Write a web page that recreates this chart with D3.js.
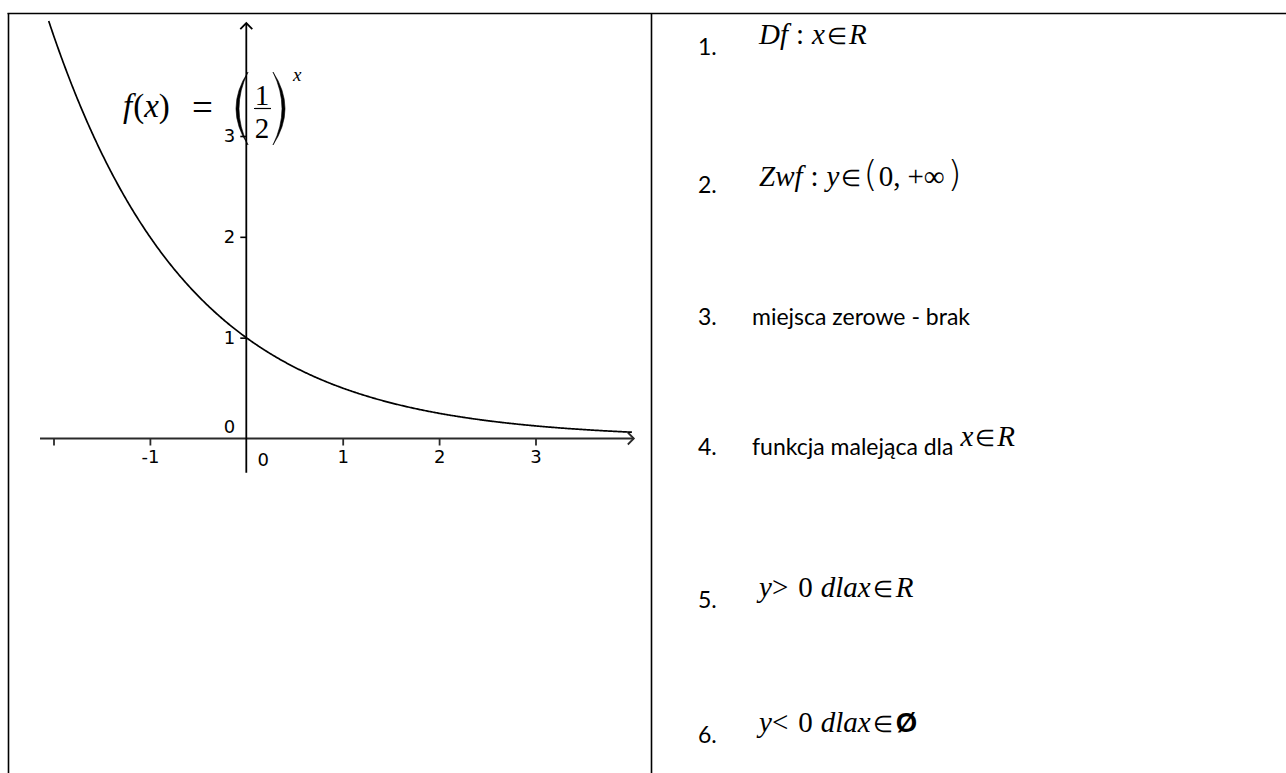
<!DOCTYPE html>
<html>
<head>
<meta charset="utf-8">
<script src="https://cdn.jsdelivr.net/npm/d3@7"></script>
<style>
  html, body { margin: 0; padding: 0; background: #fff; }
  svg { display: block; }
</style>
</head>
<body>
<svg id="chart" width="1286" height="773"></svg>
<script>
// f(x) = (1/2)^x
const base = 1 / 2;

// axis ticks and their labels
const xTicks = [-2, -1, 1, 2, 3];
const xTickLabels = ["", "-1", "1", "2", "3"];
const yTicks = [1, 2, 3];
const yTickLabels = ["1", "2", "3"];

// visible extents of the axes and the plotted curve
const xAxisExtent = [-2.14, 4.02];
const yAxisExtent = [-0.34, 4.12];
const curveExtent = [-2.05, 4.0];

// list of properties in the right-hand cell
const propNumbers = ["1.", "2.", "3.", "4.", "5.", "6."];
const propTexts = ["", "", "miejsca zerowe - brak", "funkcja malejąca dla", "", ""];
// math parts: [text, style, gap before]  (i = italic, u = upright, e = element-of sign, b = tall bracket, s = sans symbol)
const propMath = [
  [["Df", "i", 0], [":", "u", 8], ["x", "i", 8], ["∈", "e", 2], ["R", "i", 2]],
  [["Zwf", "i", 0], [":", "u", 8], ["y", "i", 8], ["∈", "e", 2], ["(", "b", 2], ["0,", "u", 1], ["+∞", "u", 7], [")", "b", 3]],
  [],
  [["x", "i", 0], ["∈", "e", 2], ["R", "i", 2]],
  [["y", "i", 0], [">", "u", 0], ["0", "u", 10], ["dlax", "i", 8], ["∈", "e", 2], ["R", "i", 3]],
  [["y", "i", 0], ["<", "u", 0], ["0", "u", 10], ["dlax", "i", 8], ["∈", "e", 2], ["Ø", "s", 3]]
];

const svg = d3.select("#chart");
svg.append("rect").attr("width", 1286).attr("height", 773).attr("fill", "#fff");

// ---- table frame ----
const frame = svg.append("g").attr("stroke", "#000").attr("stroke-width", 1.6);
frame.append("line").attr("x1", 7.5).attr("x2", 1286).attr("y1", 13.5).attr("y2", 13.5);
frame.append("line").attr("x1", 8.5).attr("x2", 8.5).attr("y1", 13).attr("y2", 773);
frame.append("line").attr("x1", 651.5).attr("x2", 651.5).attr("y1", 13).attr("y2", 773);

// ---- graph ----
const x = d3.scaleLinear().domain([-2, 3]).range([53.5, 535.5]);
const y = d3.scaleLinear().domain([0, 3]).range([438.5, 136]);

const g = svg.append("g");
const tickFont = "'DejaVu Sans', sans-serif";

// x axis with arrow
g.append("line")
  .attr("x1", x(xAxisExtent[0])).attr("x2", x(xAxisExtent[1]))
  .attr("y1", y(0)).attr("y2", y(0))
  .attr("stroke", "#2a2a2a").attr("stroke-width", 2);
g.append("path")
  .attr("d", `M${x(xAxisExtent[1]) - 6},${y(0) - 6} L${x(xAxisExtent[1])},${y(0)} L${x(xAxisExtent[1]) - 6},${y(0) + 6}`)
  .attr("fill", "none").attr("stroke", "#2a2a2a").attr("stroke-width", 1.8);

// y axis with arrow
g.append("line")
  .attr("x1", x(0)).attr("x2", x(0))
  .attr("y1", y(yAxisExtent[0])).attr("y2", y(yAxisExtent[1]))
  .attr("stroke", "#000").attr("stroke-width", 1.8);
g.append("path")
  .attr("d", `M${x(0) - 6},${y(yAxisExtent[1]) + 6} L${x(0)},${y(yAxisExtent[1])} L${x(0) + 6},${y(yAxisExtent[1]) + 6}`)
  .attr("fill", "none").attr("stroke", "#000").attr("stroke-width", 1.8);

const xAxis = d3.axisBottom(x)
  .tickValues(xTicks)
  .tickSize(7)
  .tickPadding(5)
  .tickFormat((d, i) => xTickLabels[i]);
const xg = g.append("g").attr("transform", `translate(0,${y(0)})`).call(xAxis);
xg.select(".domain").remove();
xg.selectAll(".tick line").attr("stroke", "#2a2a2a").attr("stroke-width", 1.8);
xg.selectAll(".tick text").attr("font-family", tickFont).attr("font-size", 18).attr("fill", "#000");

const yAxis = d3.axisLeft(y)
  .tickValues(yTicks)
  .tickSize(6)
  .tickPadding(5)
  .tickFormat((d, i) => yTickLabels[i]);
const yg = g.append("g").attr("transform", `translate(${x(0)},0)`).call(yAxis);
yg.select(".domain").remove();
yg.selectAll(".tick line").attr("stroke", "#000").attr("stroke-width", 1.6);
yg.selectAll(".tick text").attr("font-family", tickFont).attr("font-size", 18).attr("fill", "#000");

// zero labels at the origin
g.append("text").attr("x", x(0) + 17).attr("y", y(0) + 27)
  .attr("text-anchor", "middle").attr("font-family", tickFont).attr("font-size", 18).text("0");
g.append("text").attr("x", x(0) - 11).attr("y", y(0) - 6)
  .attr("text-anchor", "end").attr("font-family", tickFont).attr("font-size", 18).text("0");

// the curve
const xs = d3.range(curveExtent[0], curveExtent[1] + 1e-9, 0.01);
const line = d3.line().x(d => x(d)).y(d => y(Math.pow(base, d)));
g.append("path").datum(xs).attr("d", line)
  .attr("fill", "none").attr("stroke", "#000").attr("stroke-width", 1.7);

// ---- formula label f(x) = (1/2)^x ----
const serif = "'Liberation Serif', 'Times New Roman', serif";
const lab = svg.append("g").attr("font-family", serif).attr("fill", "#000");
const fx = lab.append("text").attr("x", 123).attr("y", 117).attr("font-size", 33);
fx.append("tspan").attr("font-style", "italic").text("f");
fx.append("tspan").attr("dx", 1).text("(");
fx.append("tspan").attr("font-style", "italic").text("x");
fx.append("tspan").text(")");
lab.append("text").attr("x", 192).attr("y", 120).attr("font-size", 37).text("=");
lab.append("text").attr("x", 262).attr("y", 105).attr("text-anchor", "middle").attr("font-size", 29).text("1");
lab.append("line").attr("x1", 254).attr("x2", 271).attr("y1", 108.5).attr("y2", 108.5)
  .attr("stroke", "#000").attr("stroke-width", 1.2);
lab.append("text").attr("x", 262).attr("y", 138).attr("text-anchor", "middle").attr("font-size", 29).text("2");
// large parentheses
lab.append("path")
  .attr("d", "M248,72 Q224,108.5 248,145 Q230,108.5 248,72 Z")
  .attr("fill", "#000").attr("stroke", "#000").attr("stroke-width", 0.6);
lab.append("path")
  .attr("d", "M273,72 Q297,108.5 273,145 Q291,108.5 273,72 Z")
  .attr("fill", "#000").attr("stroke", "#000").attr("stroke-width", 0.6);
lab.append("text").attr("x", 293).attr("y", 81).attr("font-size", 19).attr("font-style", "italic").text("x");

// ---- properties list ----
const sans = "Lato, 'Open Sans', sans-serif";
const rowBase = [55, 193, 325, 455, 608, 743];
const mathSize = 29;
const rows = svg.append("g");
propNumbers.forEach((num, i) => {
  rows.append("text").attr("x", 698).attr("y", rowBase[i])
    .attr("font-family", sans).attr("font-size", 23).attr("fill", "#000").text(num);
  let mathX = 759;
  let mathY = rowBase[i] - 11;
  if (propTexts[i]) {
    const t = rows.append("text").attr("x", 752).attr("y", rowBase[i])
      .attr("font-family", sans).attr("font-size", 23).attr("fill", "#000").text(propTexts[i]);
    mathX = 752 + t.node().getComputedTextLength() + 7;
    mathY = rowBase[i] - 9;
  }
  if (i === 1) mathY = rowBase[i] - 7;
  if (propMath[i].length) {
    const m = rows.append("text").attr("x", mathX).attr("y", mathY)
      .attr("font-family", serif).attr("font-size", mathSize).attr("fill", "#000");
    propMath[i].forEach(([s, st, gap]) => {
      const ts = m.append("tspan").attr("dx", gap).text(s);
      if (st === "i") ts.attr("font-style", "italic");
      if (st === "e") ts.attr("font-size", mathSize * 0.8).attr("font-family", "'DejaVu Sans', sans-serif").attr("font-weight", 200);
      if (st === "b") ts.attr("font-size", mathSize * 1.25).attr("font-family", "'DejaVu Sans', sans-serif").attr("font-weight", 200);
      if (st === "s") ts.attr("font-family", "'Liberation Sans', sans-serif").attr("font-size", mathSize * 0.95).attr("font-weight", "bold");
    });
  }
});
</script>
</body>
</html>
